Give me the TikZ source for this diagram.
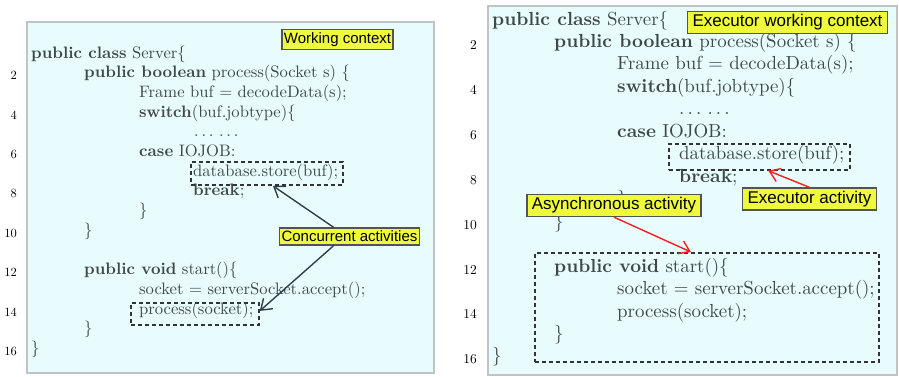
\documentclass[tikz,border=0pt]{standalone}
\usepackage{fontspec}
\setmainfont{lmroman10}[Extension=.otf,UprightFont=*-regular,BoldFont=*-bold]
\newfontfamily\notefont{Liberation Sans}
\usetikzlibrary{arrows.meta}
\definecolor{panelfill}{RGB}{232,252,253}
\definecolor{panelline}{RGB}{192,196,196}
\definecolor{codegray}{RGB}{62,72,72}
\definecolor{notefill}{RGB}{240,250,60}
\definecolor{noteline}{RGB}{80,84,84}
\definecolor{arrowgray}{RGB}{50,62,72}
\definecolor{arrowred}{RGB}{250,30,30}

\begin{document}
\begin{tikzpicture}[x=1pt,y=-1pt,
panel/.style={%
anchor=north west,
draw=panelline,
fill=panelfill,
line width=2pt,
inner sep=0pt
},
codeL/.style={%
anchor=base west,
inner sep=0pt,
text=codegray,
font=\fontsize{16.6}{18}\selectfont
},
codeR/.style={%
codeL,
font=\fontsize{18.9}{21}\selectfont
},
numL/.style={%
anchor=base east,
inner sep=0pt,
font=\fontsize{12.5}{14}\selectfont
},
numR/.style={%
numL,
font=\fontsize{13.5}{15}\selectfont
},
dbox/.style={%
anchor=north west,
draw=black!80,
line width=1.8pt,
dash pattern=on 4pt off 3pt,
inner sep=0pt
},
note/.style={%
draw=noteline,
fill=notefill,
line width=1.5pt,
inner xsep=2pt,
inner ysep=3pt,
font=\notefont\fontsize{15}{17}\selectfont
},
noteR/.style={%
note,
inner xsep=5pt,
font=\notefont\fontsize{17}{19}\selectfont
},
link/.style={%
line width=1.4pt,
-{Straight Barb[length=10pt,width=14pt]}
},
]
\useasboundingbox (0,0) rectangle (899,376);
%% Panels
\node[panel,minimum width=407pt,minimum height=351pt] (panelL) at (26,21) {};
\node[panel,minimum width=409pt,minimum height=369pt] (panelR) at (487,5) {};
%% Line numbers
\foreach \n in {2,4,...,16}{%
\node[numL] (numL\n) at (17,{60+(\n-1)*19.7}) {\n};
\node[numR] (numR\n) at (477,{27+(\n-1)*22.46}) {\n};
}
%% Left code
\node[codeL] (L1) at (31,58) {\textbf{public class} Server\{};
\node[codeL] (L2) at (84,77.7) {\textbf{public boolean} process(Socket s) \{};
\node[codeL] (L3) at (139,97.4) {Frame buf = decodeData(s);};
\node[codeL] (L4) at (139,117.1) {\textbf{switch}(buf.jobtype)\{};
\node[codeL] (L5) at (194,136.8) {.\,.\,.\ .\,.\,.};
\node[codeL] (L6) at (139,156.5) {\textbf{case} IOJOB:};
\node[codeL] (L7) at (193,176.2) {database.store(buf);};
\node[codeL] (L8) at (193,195.9) {\textbf{break};};
\node[codeL] (L9) at (139,215.6) {\}};
\node[codeL] (L10) at (84,235.3) {\}};
\node[codeL] (L12) at (84,274.7) {\textbf{public void} start()\{};
\node[codeL] (L13) at (139,294.4) {socket = serverSocket.accept();};
\node[codeL] (L14) at (139,314.1) {process(socket);};
\node[codeL] (L15) at (84,333.8) {\}};
\node[codeL] (L16) at (31,353.5) {\}};
%% Right code
\node[codeR] (R1) at (492,25) {\textbf{public class} Server\{};
\node[codeR] (R2) at (554,47.5) {\textbf{public boolean} process(Socket s) \{};
\node[codeR] (R3) at (617,69.9) {Frame buf = decodeData(s);};
\node[codeR] (R4) at (617,92.4) {\textbf{switch}(buf.jobtype)\{};
\node[codeR] (R5) at (679,114.8) {.\,.\,.\ .\,.\,.};
\node[codeR] (R6) at (617,137.3) {\textbf{case} IOJOB:};
\node[codeR] (R7) at (679,159.8) {database.store(buf);};
\node[codeR] (R8) at (679,182.2) {\textbf{break};};
\node[codeR] (R9) at (617,204.7) {\}};
\node[codeR] (R10) at (554,227.1) {\}};
\node[codeR] (R12) at (554,272.1) {\textbf{public void} start()\{};
\node[codeR] (R13) at (617,294.5) {socket = serverSocket.accept();};
\node[codeR] (R14) at (617,317) {process(socket);};
\node[codeR] (R15) at (554,339.4) {\}};
\node[codeR] (R16) at (492,361.9) {\}};
%% Dashed boxes
\node[dbox,minimum width=152pt,minimum height=23pt] (storeL) at (190,161) {};
\node[dbox,minimum width=128pt,minimum height=22pt] (procL) at (130,302) {};
\node[dbox,minimum width=181pt,minimum height=26pt] (storeR) at (668,143) {};
\node[dbox,minimum width=344pt,minimum height=109pt] (startR) at (534,252) {};
%% Notes
\node[note] (ctxL) at (337.5,39.5) {Working context};
\node[note] (conc) at (349.5,236.5) {Concurrent activities};
\node[noteR] (ctxR) at (787.5,22.5) {Executor working context};
\node[noteR] (exec) at (809.5,199) {Executor activity};
\node[noteR] (async) at (614,205.5) {Asynchronous activity};
%% Arrows
\draw[link,arrowgray] ([xshift=-16pt]conc.north) -- ([xshift=6pt]storeL.south);
\draw[link,arrowgray] ([xshift=-16pt]conc.south) -- ([yshift=3pt]procL.east);
\draw[link,arrowred] (exec.north) -- ([xshift=9pt]storeR.south);
\draw[link,arrowred] (async.south) -- ([xshift=-16pt]startR.north);
\end{tikzpicture}
\end{document}
